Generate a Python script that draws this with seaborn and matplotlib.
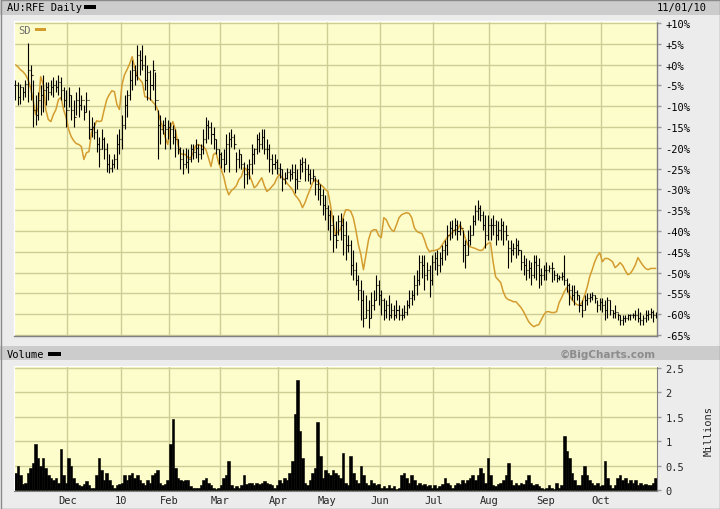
import numpy as np
import pandas as pd
import matplotlib
matplotlib.use("Agg")
import matplotlib.pyplot as plt
from matplotlib.patches import Rectangle
import seaborn as sns

# ---------------- data ----------------
months = ["Dec", "10", "Feb", "Mar", "Apr", "May", "Jun", "Jul", "Aug", "Sep", "Oct"]
month_start_idx = [21, 42, 61, 81, 104, 123, 144, 165, 187, 209, 231]

high = [
    -3.6, -4.1, -4.6, -5.5, -3.6, 5.3, 0.0, -3.6, -7.2, -6.5, -4.8, -2.4, -4.3, -4.1, -3.6, -3.1, -3.6, -2.6, -3.1, -5.5, -6.0,
    -5.5, -7.2, -8.4, -6.5, -5.5, -7.2, -9.6, -6.5, -10.8, -12.5, -13.7, -15.6, -17.3, -15.6, -17.5, -18.8, -21.6, -22.8, -21.6, -16.8, -15.6,
    -12.0, -7.2, -6.0, -1.2, 1.2, 0.0, 4.8, 3.6, 4.8, 2.4, 0.0, -1.2, 1.2, -1.7, -10.8, -12.0, -13.2, -12.7, -13.2,
    -13.9, -14.4, -15.6, -18.0, -19.7, -20.4, -20.0, -20.4, -19.2, -19.2, -18.0, -19.2, -19.2, -15.6, -12.7, -13.2, -13.7, -15.1, -18.0, -20.4,
    -20.9, -20.4, -16.8, -16.1, -15.6, -16.8, -20.9, -20.4, -21.6, -23.3, -24.0, -22.8, -19.2, -20.0, -16.8, -16.3, -15.6, -15.6, -18.0, -19.2, -21.6, -21.6, -22.8,
    -23.6, -25.2, -25.7, -24.8, -25.2, -24.0, -24.0, -25.2, -22.8, -22.1, -22.4, -24.0, -25.2, -25.2, -26.9, -27.6, -28.8, -30.0, -31.3,
    -33.7, -34.9, -36.1, -37.7, -36.1, -35.6, -36.8, -37.7, -40.9, -42.1, -44.5, -47.4, -50.5, -51.7, -54.1, -55.3, -56.5, -54.6, -54.1, -50.5, -51.7,
    -54.1, -56.0, -56.5, -55.3, -57.2, -57.7, -56.5, -57.7, -58.4, -57.7, -56.5, -54.1, -54.1, -50.5, -49.3, -45.7, -45.7, -45.7, -47.4, -48.1, -45.7,
    -45.0, -44.5, -45.0, -43.3, -42.1, -38.5, -37.7, -37.3, -36.8, -37.3, -37.7, -39.7, -42.1, -39.7, -38.5, -36.1, -33.7, -32.5, -33.7, -35.3, -36.1, -36.1,
    -36.8, -36.1, -37.3, -37.7, -36.8, -37.7, -38.5, -42.1, -42.1, -42.8, -41.6, -42.1, -44.5, -45.7, -46.4, -46.9, -47.4, -45.7, -45.7, -46.4, -48.8, -48.1,
    -47.4, -48.1, -47.4, -49.3, -50.0, -50.5, -49.8, -45.7, -51.2, -52.4, -52.9, -52.9, -54.1, -55.3, -56.5, -55.3, -54.8, -54.8, -54.6, -55.5, -56.5, -56.0,
    -56.0, -56.5, -55.8, -56.5, -58.9, -57.7, -59.6, -60.1, -60.1, -60.1, -59.9, -59.9, -59.6, -58.9, -58.4, -59.4, -60.1, -58.9, -58.9, -58.4, -58.9, -59.4,
]

low = [
    -8.4, -9.6, -9.4, -8.4, -7.9, -9.1, -8.4, -14.9, -14.4, -13.2, -12.0, -11.3, -9.6, -8.4, -7.2, -7.7, -6.7, -7.2, -8.4, -10.3, -14.9,
    -10.1, -13.2, -14.9, -12.0, -12.5, -10.8, -13.2, -11.3, -18.0, -17.3, -18.0, -20.9, -24.5, -20.4, -22.8, -25.7, -26.0, -25.7, -24.8, -25.2, -21.6,
    -20.4, -15.6, -12.7, -8.4, -6.0, -4.8, -3.6, -2.4, -1.2, -6.0, -8.4, -8.4, -6.0, -10.8, -22.8, -19.2, -16.8, -20.4, -18.0,
    -20.4, -19.2, -22.1, -21.6, -25.2, -26.4, -24.8, -26.0, -23.3, -22.8, -22.4, -23.3, -22.8, -21.6, -18.8, -18.0, -19.2, -20.4, -21.6, -24.0,
    -24.8, -25.7, -24.0, -25.7, -19.7, -20.4, -25.7, -24.8, -25.2, -29.6, -28.8, -27.6, -26.4, -24.0, -21.6, -20.9, -20.4, -21.6, -22.8, -25.7, -26.4, -25.2, -26.4,
    -27.2, -30.5, -28.8, -27.6, -28.1, -27.6, -30.8, -30.0, -27.6, -25.7, -28.1, -28.1, -28.8, -28.1, -31.3, -32.5, -33.7, -36.1, -37.3,
    -39.7, -42.1, -45.0, -44.0, -40.9, -42.1, -45.7, -46.9, -45.0, -50.5, -51.7, -52.9, -56.5, -61.3, -63.0, -60.8, -63.2, -60.8, -58.9, -56.5, -57.7,
    -60.1, -61.3, -60.8, -61.3, -60.8, -61.3, -60.8, -61.3, -61.3, -60.8, -60.1, -58.4, -57.7, -56.5, -55.3, -52.9, -51.2, -54.1, -51.7, -55.8, -52.9,
    -49.3, -50.5, -49.8, -48.1, -46.9, -45.7, -42.1, -41.6, -40.9, -42.1, -40.9, -47.4, -48.8, -45.7, -43.3, -40.9, -38.5, -37.3, -37.7, -39.7, -44.0, -42.1,
    -42.1, -40.9, -43.3, -42.1, -42.1, -43.3, -42.1, -48.8, -47.4, -45.7, -46.4, -45.7, -49.3, -50.5, -51.7, -51.2, -52.9, -51.2, -51.7, -53.6, -52.9, -51.7,
    -51.7, -49.8, -52.2, -51.7, -52.2, -51.7, -51.7, -52.9, -54.6, -57.7, -56.5, -57.7, -56.5, -59.4, -60.6, -58.9, -57.7, -57.0, -56.5, -57.2, -59.4, -58.9,
    -59.4, -61.3, -60.8, -60.1, -60.8, -60.8, -61.3, -62.5, -62.5, -61.8, -61.3, -61.3, -60.8, -61.3, -61.8, -62.5, -62.5, -61.8, -61.3, -60.8, -61.8, -60.8,
]

close = [
    -4.8, -7.7, -5.5, -6.5, -4.6, -1.2, -2.4, -10.8, -12.0, -8.4, -7.2, -6.0, -5.5, -6.5, -5.5, -4.8, -5.5, -4.1, -6.0, -8.4, -10.8,
    -7.2, -10.8, -12.7, -8.4, -9.6, -8.4, -11.3, -8.4, -15.6, -15.1, -16.1, -19.2, -20.4, -18.0, -20.4, -24.0, -24.8, -24.0, -22.8, -19.2, -18.0,
    -14.4, -9.6, -7.2, -3.6, -1.2, -2.4, 2.4, 1.2, 0.0, -3.6, -1.7, -4.8, -1.2, -8.4, -14.4, -15.6, -14.4, -15.6, -15.1,
    -15.6, -17.5, -18.0, -20.4, -22.8, -24.0, -23.3, -22.8, -20.4, -20.9, -20.0, -21.6, -20.4, -18.0, -14.4, -15.1, -16.8, -18.0, -20.4, -21.6,
    -22.8, -24.0, -19.2, -18.0, -17.5, -19.2, -22.8, -21.6, -24.0, -26.4, -25.2, -24.0, -21.6, -20.4, -18.0, -19.2, -17.5, -20.4, -20.4, -22.8, -24.0, -23.3, -24.8,
    -25.2, -27.6, -27.2, -25.7, -26.4, -25.7, -27.6, -28.1, -24.0, -23.3, -25.2, -26.4, -27.2, -26.7, -28.8, -30.0, -31.3, -33.7, -34.4,
    -36.1, -38.5, -40.9, -42.1, -37.7, -38.5, -40.9, -43.3, -43.3, -48.1, -49.3, -51.7, -54.1, -56.5, -60.8, -58.9, -60.8, -57.7, -56.5, -52.9, -55.3,
    -56.5, -58.9, -57.7, -60.1, -58.9, -60.1, -58.9, -60.1, -60.3, -59.4, -57.7, -56.0, -55.3, -52.9, -51.7, -47.4, -48.1, -50.5, -49.3, -51.7, -47.4,
    -46.4, -48.1, -46.4, -44.5, -43.3, -40.9, -39.2, -39.7, -38.5, -40.1, -39.2, -43.3, -45.7, -42.1, -40.9, -37.7, -35.3, -34.4, -36.1, -38.5, -40.9, -38.5,
    -38.5, -38.5, -40.9, -39.7, -38.5, -40.1, -40.9, -44.0, -44.5, -44.0, -43.3, -44.5, -47.4, -48.1, -49.3, -48.8, -50.5, -47.4, -48.1, -50.5, -50.5, -49.3,
    -49.3, -48.8, -48.8, -50.5, -51.2, -51.0, -50.7, -51.7, -52.9, -54.1, -55.3, -54.6, -55.3, -57.7, -58.9, -56.5, -56.0, -55.8, -55.3, -56.0, -57.7, -57.0,
    -57.7, -58.9, -56.5, -58.9, -59.6, -59.4, -60.3, -61.3, -60.8, -60.8, -60.3, -60.3, -60.1, -60.3, -60.8, -61.3, -60.8, -60.1, -59.9, -59.4, -60.1, -60.1,
]

sd = [
    0.0, -0.5, -1.2, -1.7, -2.4, -3.6, -5.5, -8.4, -12.0, -10.3, -2.9, -4.8, -10.8, -13.2, -13.7, -12.0, -10.8, -8.4, -7.9, -10.8, -12.7,
    -15.6, -17.3, -18.3, -19.0, -19.2, -19.7, -22.8, -21.2, -20.9, -16.3, -15.1, -13.5, -13.7, -13.5, -10.8, -8.4, -7.2, -6.3, -6.5, -9.6, -10.8,
    -4.8, -2.4, -1.2, 0.2, 1.9, -0.7, -2.9, -3.6, -4.3, -7.7, -7.9, -8.2, -8.9, -9.6, -10.8, -13.2, -15.1, -17.5, -19.2,
    -15.1, -13.7, -15.6, -19.2, -21.4, -21.6, -21.6, -22.4, -22.4, -21.2, -19.5, -19.2, -19.5, -19.7, -20.4, -22.4, -24.5, -21.6, -21.2, -23.6,
    -25.2, -26.9, -29.6, -31.3, -30.3, -29.8, -29.1, -27.6, -26.9, -24.8, -25.2, -26.4, -27.9, -29.6, -29.1, -28.1, -27.2, -29.1, -30.5, -30.0, -29.3, -28.6, -27.2,
    -26.4, -27.2, -27.6, -28.6, -29.3, -30.0, -31.3, -32.0, -32.9, -34.4, -33.2, -31.5, -30.0, -28.4, -27.6, -28.1, -28.8, -29.3, -30.0,
    -30.5, -33.7, -37.7, -40.9, -40.1, -39.7, -36.8, -34.9, -34.9, -35.3, -36.8, -39.7, -43.3, -45.7, -49.3, -45.7, -42.1, -40.1, -39.7, -39.7, -41.1,
    -41.6, -36.8, -37.3, -38.7, -39.7, -40.1, -38.5, -36.8, -36.1, -35.8, -35.6, -35.8, -36.8, -39.2, -40.1, -40.4, -40.6, -42.1, -44.0, -45.0, -44.7,
    -44.7, -44.5, -44.2, -43.3, -42.3, -41.6, -40.9, -40.4, -39.7, -39.7, -38.5, -39.7, -41.6, -43.3, -43.8, -44.0, -44.2, -44.5, -44.7, -44.5, -43.5, -43.0,
    -42.8, -47.4, -51.0, -51.7, -52.4, -54.6, -56.0, -56.5, -56.7, -57.0, -57.0, -57.7, -58.4, -59.4, -60.6, -61.8, -62.5, -63.0, -62.7, -62.5, -61.3, -60.1,
    -59.4, -59.4, -59.6, -59.6, -59.4, -57.2, -56.0, -54.6, -53.6, -55.3, -56.5, -57.2, -57.7, -57.9, -57.2, -55.5, -53.6, -51.0, -49.3, -47.4, -46.0, -45.2,
    -47.4, -46.6, -46.6, -46.9, -47.4, -48.8, -48.3, -47.6, -48.3, -49.5, -50.5, -50.2, -49.3, -48.1, -46.4, -47.4, -48.3, -49.0, -49.3, -49.0, -49.0, -49.0,
]

volume = [
    0.35, 0.5, 0.3, 0.12, 0.15, 0.35, 0.45, 0.55, 0.95, 0.65, 0.5, 0.65, 0.45, 0.3, 0.25, 0.2, 0.25, 0.15, 0.85, 0.3, 0.15,
    0.65, 0.5, 0.25, 0.15, 0.1, 0.08, 0.12, 0.18, 0.1, 0.05, 0.05, 0.3, 0.65, 0.4, 0.2, 0.35, 0.2, 0.1, 0.05, 0.1, 0.12,
    0.15, 0.3, 0.2, 0.3, 0.35, 0.25, 0.3, 0.2, 0.15, 0.1, 0.2, 0.15, 0.3, 0.35, 0.4, 0.15, 0.1, 0.12, 0.2,
    0.95, 1.45, 0.45, 0.25, 0.2, 0.18, 0.2, 0.2, 0.08, 0.05, 0.05, 0.05, 0.1, 0.2, 0.25, 0.15, 0.1, 0.05, 0.03, 0.05,
    0.1, 0.25, 0.3, 0.6, 0.1, 0.05, 0.08, 0.05, 0.1, 0.3, 0.12, 0.15, 0.15, 0.1, 0.15, 0.12, 0.15, 0.18, 0.15, 0.12, 0.1, 0.05, 0.1,
    0.2, 0.15, 0.25, 0.2, 0.35, 0.6, 1.55, 2.25, 1.2, 0.65, 0.15, 0.1, 0.2, 0.35, 0.45, 1.4, 0.7, 0.25, 0.4,
    0.35, 0.3, 0.4, 0.35, 0.3, 0.25, 0.75, 0.15, 0.1, 0.7, 0.35, 0.2, 0.15, 0.5, 0.3, 0.15, 0.1, 0.2, 0.15, 0.1, 0.12,
    0.05, 0.08, 0.04, 0.1, 0.05, 0.08, 0.03, 0.05, 0.3, 0.35, 0.25, 0.15, 0.3, 0.2, 0.1, 0.15, 0.1, 0.12, 0.08, 0.1, 0.05,
    0.1, 0.05, 0.08, 0.12, 0.25, 0.15, 0.1, 0.05, 0.1, 0.15, 0.12, 0.2, 0.15, 0.2, 0.25, 0.3, 0.2, 0.3, 0.45, 0.35, 0.15, 0.65,
    0.3, 0.1, 0.08, 0.12, 0.15, 0.2, 0.3, 0.55, 0.2, 0.1, 0.15, 0.1, 0.15, 0.12, 0.2, 0.3, 0.15, 0.1, 0.12, 0.08, 0.05, 0.03,
    0.05, 0.1, 0.05, 0.03, 0.15, 0.05, 0.1, 1.1, 0.8, 0.65, 0.35, 0.2, 0.1, 0.1, 0.3, 0.5, 0.3, 0.2, 0.15, 0.1, 0.15, 0.08,
    0.1, 0.6, 0.25, 0.1, 0.05, 0.1, 0.25, 0.3, 0.2, 0.25, 0.15, 0.2, 0.15, 0.2, 0.1, 0.15, 0.1, 0.12, 0.1, 0.1, 0.15, 0.25,
]

pct_ticks = [10, 5, 0, -5, -10, -15, -20, -25, -30, -35, -40, -45, -50, -55, -60, -65]
pct_labels = ["+10%", "+5%", "+0%", "-5%", "-10%", "-15%", "-20%", "-25%", "-30%",
              "-35%", "-40%", "-45%", "-50%", "-55%", "-60%", "-65%"]
vol_ticks = [0, 0.5, 1, 1.5, 2, 2.5]
vol_labels = ["0", "0.5", "1", "1.5", "2", "2.5"]

assert len(high) == len(low) == len(close) == len(sd) == len(volume), \
    (len(high), len(low), len(close), len(sd), len(volume))

# ---------------- style ----------------
sns.set_style("white")
plt.rcParams['font.family'] = ['DejaVu Sans Mono', 'DejaVu Sans']

BG = "#ececec"
BAND = "#cccccc"
PLOT_BG = "#fdfdcc"
GRID = "#cdcd96"
ORANGE = "#d39c2f"
SPINE = "#808080"
FS = 7.5

N = len(close)
idx = np.arange(N)
bounds = [m - 0.5 for m in month_start_idx]
opens = [close[0]] + close[:-1]

W, H = 720, 510
fx = lambda px: px / W
fy = lambda py: 1 - py / H

fig = plt.figure(figsize=(7.2, 5.1), dpi=100, facecolor=BG)

# header bands
fig.patches.append(Rectangle((0, fy(16)), 1, 16 / H, transform=fig.transFigure,
                             facecolor=BAND, edgecolor="none", zorder=0))
fig.patches.append(Rectangle((0, fy(361)), 1, 14 / H, transform=fig.transFigure,
                             facecolor=BAND, edgecolor="none", zorder=0))
fig.patches.append(Rectangle((0.5 / W, 0.5 / H), 1 - 1 / W, 1 - 1 / H, transform=fig.transFigure,
                             facecolor="none", edgecolor="#8a8a8a", lw=1.0, zorder=5))

fig.text(fx(7), fy(8), "AU:RFE Daily", fontsize=FS, va="center", ha="left", color="black")
fig.patches.append(Rectangle((fx(84), fy(10)), 12 / W, 4 / H, transform=fig.transFigure,
                             facecolor="black", edgecolor="none"))
fig.text(fx(657), fy(8), "11/01/10", fontsize=FS, va="center", ha="left", color="black")

fig.text(fx(7), fy(355), "Volume", fontsize=FS, va="center", ha="left", color="black")
fig.patches.append(Rectangle((fx(48), fy(357)), 13 / W, 4 / H, transform=fig.transFigure,
                             facecolor="black", edgecolor="none"))
fig.text(fx(656), fy(355), "\u00a9BigCharts.com", fontsize=7.5, va="center", ha="right",
         color="#8c8c8c", fontweight="bold", family="DejaVu Sans")

# ---------------- price panel ----------------
ax = fig.add_axes([fx(14), fy(337), 643 / W, 315 / H])
ax.set_facecolor(PLOT_BG)
for b in bounds:
    ax.axvline(b, color=GRID, lw=1.0, zorder=1)
for t in pct_ticks:
    ax.axhline(t, color=GRID, lw=1.0, zorder=1)

df = pd.DataFrame({"i": idx, "sd": sd})
sns.lineplot(data=df, x="i", y="sd", ax=ax, color=ORANGE, lw=1.1, zorder=2, legend=False)

ax.vlines(idx, low, high, color="black", lw=0.8, zorder=3)
ax.hlines(close, idx, idx + 0.4, color="black", lw=0.8, zorder=3)
ax.hlines(opens, idx - 0.4, idx, color="black", lw=0.8, zorder=3)

ax.set_xlim(-0.5, N - 0.5)
ax.set_ylim(-65.24, 10.48)
ax.set_xticks([])
ax.set_xlabel("")
ax.set_ylabel("")
ax.yaxis.tick_right()
ax.set_yticks(pct_ticks)
ax.set_yticklabels(pct_labels)
ax.tick_params(axis="y", right=True, left=False, length=3, width=1, color="#999999",
               pad=3, labelsize=FS, labelcolor="black")
for s in ["top", "left"]:
    ax.spines[s].set_color("white")
    ax.spines[s].set_linewidth(1.0)
for s in ["right", "bottom"]:
    ax.spines[s].set_color(SPINE)
    ax.spines[s].set_linewidth(1.0)

fig.text(fx(18), fy(30.5), "SD", fontsize=FS, va="center", ha="left", color="#6e6e6e", zorder=6)
fig.patches.append(Rectangle((fx(35), fy(32)), 11 / W, 3 / H, transform=fig.transFigure,
                             facecolor=ORANGE, edgecolor="none", zorder=6))

# ---------------- volume panel ----------------
axv = fig.add_axes([fx(14), fy(492), 643 / W, 125 / H])
axv.set_facecolor(PLOT_BG)
for b in bounds:
    axv.axvline(b, color=GRID, lw=1.0, zorder=1)
for t in vol_ticks[1:]:
    axv.axhline(t, color=GRID, lw=1.0, zorder=1)
axv.bar(idx, volume, width=1.0, color="black", edgecolor="black", linewidth=0.4, zorder=2)
axv.set_xlim(-0.5, N - 0.5)
axv.set_ylim(-0.02, 2.54)
axv.set_xticks(bounds)
axv.set_xticklabels(months)
axv.yaxis.tick_right()
axv.set_yticks(vol_ticks)
axv.set_yticklabels(vol_labels)
axv.tick_params(axis="y", right=True, left=False, length=3, width=1, color="#999999",
                pad=3, labelsize=FS)
axv.tick_params(axis="x", length=0, pad=3, labelsize=FS)
for s in ["top", "left"]:
    axv.spines[s].set_color("white")
for s in ["right", "bottom"]:
    axv.spines[s].set_color(SPINE)
fig.text(fx(709), fy(431), "Millions", rotation=90, fontsize=FS, va="center", ha="center")

fig.savefig("out.png", dpi=100, facecolor=BG)
